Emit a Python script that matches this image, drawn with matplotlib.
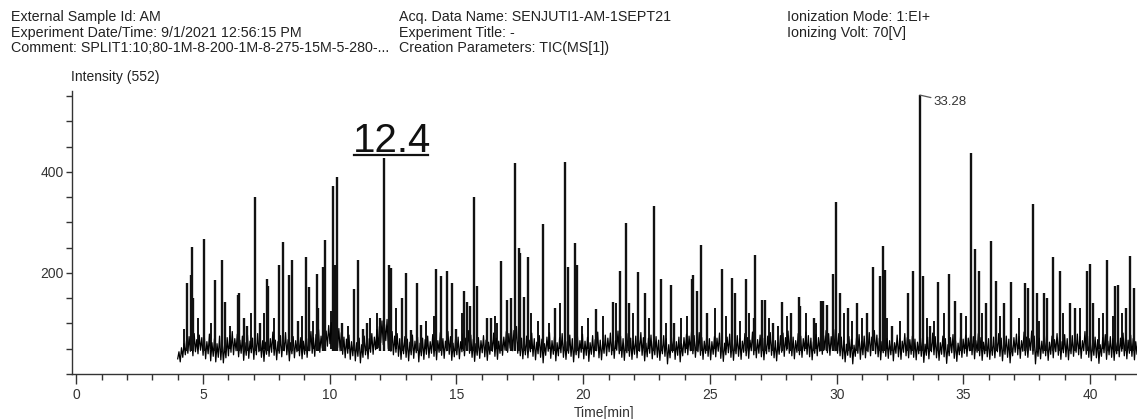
import numpy as np
import matplotlib
matplotlib.use("Agg")
import matplotlib.pyplot as plt
from matplotlib.lines import Line2D
from matplotlib.ticker import MultipleLocator

plt.rcParams['font.family'] = ['Liberation Sans', 'DejaVu Sans']

# ---------------- data ----------------
# baseline (noise) of the TIC, 20 readings per minute from 4.0 to 42.0 min
baseline = [
    30, 44, 24, 52, 33, 60, 38, 66, 41, 74, 45, 70, 36, 80, 44, 68, 40, 77, 47, 72,
    37, 73, 30, 64, 40, 79, 26, 62, 35, 70, 24, 60, 33, 75, 28, 66, 22, 58, 32, 72,
    36, 76, 43, 84, 38, 70, 46, 79, 34, 67, 41, 75, 27, 62, 37, 77, 31, 65, 42, 71,
    29, 69, 38, 80, 44, 73, 33, 66, 25, 63, 39, 78, 35, 70, 43, 83, 37, 67, 28, 64,
    41, 76, 34, 71, 46, 82, 38, 68, 26, 62, 40, 74, 32, 66, 44, 79, 36, 72, 30, 65,
    39, 75, 33, 70, 46, 84, 41, 72, 35, 78, 48, 88, 43, 75, 51, 92, 49, 85, 55, 96,
    60, 102, 56, 95, 64, 106, 52, 90, 46, 82, 39, 73, 32, 69, 41, 77, 29, 64, 36, 72,
    26, 62, 35, 71, 22, 58, 33, 75, 38, 66, 30, 70, 43, 80, 39, 73, 48, 88, 52, 94,
    62, 105, 58, 98, 66, 108, 50, 92, 45, 84, 38, 75, 43, 80, 35, 70, 29, 66, 40, 74,
    33, 69, 26, 63, 38, 77, 31, 65, 42, 73, 24, 61, 36, 71, 29, 68, 39, 75, 32, 64,
    41, 78, 35, 72, 28, 66, 43, 82, 37, 70, 31, 65, 46, 84, 39, 74, 27, 61, 34, 69,
    38, 73, 30, 64, 44, 80, 36, 71, 49, 86, 41, 77, 33, 69, 25, 60, 37, 72, 31, 66,
    42, 76, 34, 67, 27, 63, 39, 74, 45, 81, 35, 71, 29, 65, 41, 78, 37, 73, 47, 84,
    43, 80, 51, 90, 46, 86, 54, 94, 41, 77, 36, 71, 30, 66, 38, 75, 32, 67, 44, 81,
    35, 70, 28, 63, 40, 76, 33, 69, 22, 60, 37, 73, 45, 82, 31, 66, 39, 74, 26, 62,
    36, 72, 42, 80, 33, 67, 29, 64, 41, 77, 35, 70, 24, 61, 38, 75, 32, 66, 43, 79,
    30, 65, 37, 73, 25, 62, 39, 76, 34, 68, 46, 83, 32, 67, 28, 64, 41, 77, 36, 71,
    44, 81, 38, 74, 31, 66, 47, 85, 40, 75, 33, 70, 27, 63, 42, 80, 35, 71, 29, 65,
    39, 75, 32, 69, 45, 82, 37, 72, 26, 61, 34, 71, 41, 77, 30, 65, 38, 74, 33, 67,
    27, 63, 40, 76, 35, 70, 20, 58, 32, 67, 43, 80, 29, 64, 37, 73, 24, 60, 36, 72,
    42, 79, 38, 75, 46, 84, 40, 76, 33, 68, 44, 82, 37, 72, 29, 65, 41, 77, 35, 70,
    28, 64, 39, 74, 34, 71, 45, 81, 31, 66, 25, 61, 38, 73, 42, 79, 33, 68, 27, 63,
    40, 76, 35, 70, 29, 65, 43, 80, 36, 72, 31, 67, 46, 83, 38, 74, 32, 68, 41, 77,
    34, 71, 28, 64, 40, 75, 44, 82, 37, 73, 32, 66, 26, 62, 39, 76, 43, 81, 35, 72,
    47, 85, 41, 77, 36, 73, 30, 66, 43, 80, 38, 75, 33, 70, 46, 83, 39, 76, 34, 71,
    28, 64, 41, 78, 36, 72, 45, 82, 39, 76, 48, 86, 42, 80, 37, 74, 49, 88, 46, 84,
    41, 80, 36, 73, 30, 66, 24, 59, 37, 74, 33, 69, 20, 57, 35, 72, 41, 78, 29, 65,
    38, 75, 32, 68, 44, 82, 36, 73, 47, 86, 40, 77, 34, 71, 28, 64, 42, 80, 35, 70,
    31, 66, 38, 74, 26, 62, 41, 77, 34, 70, 29, 65, 43, 80, 36, 72, 32, 68, 39, 75,
    33, 69, 28, 63, 40, 76, 35, 71, 23, 59, 37, 73, 30, 67, 44, 81, 38, 74, 32, 68,
    27, 62, 39, 75, 34, 70, 21, 58, 36, 72, 42, 78, 31, 66, 25, 61, 38, 74, 33, 69,
    41, 77, 35, 71, 46, 84, 38, 74, 30, 66, 43, 80, 36, 72, 27, 63, 40, 76, 34, 70,
    29, 64, 37, 73, 32, 68, 44, 80, 35, 71, 26, 62, 39, 75, 33, 69, 22, 59, 36, 72,
    43, 79, 38, 74, 31, 66, 45, 83, 37, 73, 33, 70, 47, 85, 39, 75, 20, 58, 35, 71,
    30, 65, 41, 77, 36, 72, 27, 63, 39, 75, 32, 68, 44, 80, 37, 73, 29, 64, 42, 78,
    34, 70, 28, 64, 40, 76, 35, 71, 43, 79, 38, 74, 31, 66, 46, 84, 39, 75, 33, 69,
    26, 62, 37, 73, 32, 68, 21, 58, 35, 72, 42, 78, 29, 65, 38, 74, 33, 70, 27, 63,
    40, 76, 34, 71, 45, 81, 36, 72, 30, 67, 41, 77, 35, 70, 28, 64, 39, 75, 32, 69,
]
run_start, run_end = 4.0, 42.0

# main peaks: retention times [min] and apex intensities
peak_times = [
    4.38, 4.53, 4.57, 4.62, 5.05, 5.48, 5.75, 5.85, 6.38, 6.43, 6.60, 6.75, 7.06, 7.25,
    7.52, 7.58, 8.00, 8.17, 8.40, 8.50, 8.75, 9.06, 9.20, 9.48, 9.55, 9.72, 9.81, 10.14,
    10.22, 10.28, 10.50, 10.97, 11.10, 11.30, 11.45, 12.00, 12.15, 12.35, 12.42, 12.85,
    13.00, 13.20, 13.44, 13.60, 14.19, 14.40, 14.62, 14.82, 15.00, 15.31, 15.42, 15.55,
    15.71, 15.82, 16.20, 16.35, 16.77, 16.98, 17.15, 17.29, 17.45, 17.50, 17.65, 17.82,
    18.40, 18.90, 19.28, 19.41, 19.67, 19.75, 20.50, 21.16, 21.47, 21.70, 21.80, 22.17,
    22.45, 22.80, 23.08, 23.48, 23.60, 24.29, 24.35, 24.50, 24.64, 24.90, 25.46, 25.89,
    26.00, 26.41, 26.72, 26.76, 27.05, 27.18, 27.50, 27.84, 28.20, 28.50, 28.55, 29.10,
    29.37, 29.45, 29.60, 29.86, 29.98, 30.12, 30.45, 30.82, 31.20, 31.45, 31.70, 31.81,
    31.90, 32.20, 32.82, 33.03, 33.28, 33.39, 33.70, 34.00, 34.44, 34.65, 34.90, 35.30,
    35.46, 35.62, 35.90, 36.07, 36.29, 36.60, 36.88, 37.42, 37.55, 37.74, 37.90, 38.20,
    38.30, 38.54, 38.80, 39.20, 39.40, 39.87, 39.99, 40.10, 40.68, 41.00, 41.10, 41.40,
    41.58, 41.75,
]
peak_heights = [
    180, 195, 251, 150, 268, 186, 225, 143, 157, 160, 110, 95, 350, 100,
    188, 175, 215, 262, 195, 225, 105, 232, 172, 197, 130, 212, 265, 373,
    215, 390, 100, 168, 225, 90, 100, 110, 427, 215, 210, 151,
    199, 88, 181, 96, 208, 193, 203, 180, 90, 165, 142, 135,
    351, 175, 110, 110, 223, 146, 150, 417, 249, 240, 153, 231,
    296, 131, 420, 211, 260, 216, 128, 142, 204, 299, 140, 202,
    161, 332, 188, 176, 100, 188, 196, 164, 256, 120, 207, 190,
    161, 188, 110, 236, 146, 147, 100, 142, 120, 152, 135, 110,
    145, 145, 137, 197, 340, 160, 130, 140, 120, 212, 193, 254,
    205, 95, 161, 204, 552, 193, 95, 182, 197, 145, 120, 437,
    247, 204, 140, 263, 184, 140, 182, 180, 170, 337, 160, 160,
    150, 231, 203, 140, 130, 204, 218, 140, 226, 175, 176, 130,
    234, 170,
]
# small peaks standing just above the noise
minor_peak_times = [
    4.25, 4.80, 5.30, 6.05, 6.90, 7.40, 7.80, 8.90, 9.35, 10.05, 10.70, 11.60,
    11.85, 12.60, 13.80, 14.10, 15.20, 16.50, 16.60, 17.95, 18.20, 18.65, 19.10,
    19.95, 20.20, 20.80, 21.30, 21.95, 22.60, 23.25, 23.85, 24.10, 25.20, 25.65,
    26.20, 26.55, 27.35, 27.70, 28.05, 28.80, 29.20, 30.30, 30.60, 31.00, 32.00,
    32.50, 33.55, 33.85, 34.25, 35.10, 35.75, 36.45, 37.20, 38.00, 38.95, 39.60,
    40.35, 40.50, 40.90, 41.25,
]
minor_peak_heights = [
    90, 110, 100, 95, 120, 120, 110, 115, 105, 125, 95, 110,
    120, 130, 105, 115, 120, 115, 100, 120, 105, 100, 140,
    95, 110, 115, 140, 120, 110, 100, 110, 115, 130, 115,
    105, 120, 110, 95, 115, 120, 100, 120, 105, 110, 110,
    105, 110, 105, 120, 115, 120, 115, 110, 105, 120, 130,
    110, 120, 115, 120,
]
labelled_peak = 33.28
handwritten_note = "12.4"

header_col1 = ["External Sample Id: AM",
               "Experiment Date/Time: 9/1/2021 12:56:15 PM",
               "Comment: SPLIT1:10;80-1M-8-200-1M-8-275-15M-5-280-..."]
header_col2 = ["Acq. Data Name: SENJUTI1-AM-1SEPT21",
               "Experiment Title: -",
               "Creation Parameters: TIC(MS[1])"]
header_col3 = ["Ionization Mode: 1:EI+",
               "Ionizing Volt: 70[V]"]
y_title = "Intensity (552)"
x_title = "Time[min]"

# ---------------- figure ----------------
W, H = 1137, 419
fig = plt.figure(figsize=(W / 100, H / 100), dpi=100)
ax = fig.add_axes([72 / W, 1 - 374 / H, (W - 72) / W, (374 - 91) / H])

t = np.linspace(run_start, run_end, len(baseline))
ax.plot(t, baseline, color='black', lw=0.9)
ax.vlines(minor_peak_times, 50, minor_peak_heights, color='black', lw=1.3)
ax.vlines(peak_times, 45, peak_heights, color='#111111', lw=1.7)

ax.set_xlim(-0.17, 41.85)
ax.set_ylim(0, 560)

for s in ['top', 'right']:
    ax.spines[s].set_visible(False)
for s in ['left', 'bottom']:
    ax.spines[s].set_color('#333333')
    ax.spines[s].set_linewidth(1.0)

ax.xaxis.set_major_locator(MultipleLocator(5))
ax.xaxis.set_minor_locator(MultipleLocator(1))
ax.yaxis.set_major_locator(MultipleLocator(200))
ax.yaxis.set_minor_locator(MultipleLocator(50))
ax.tick_params(axis='x', which='major', length=7, width=1.0, color='#333333',
               labelsize=10, labelcolor='#333333', pad=3)
ax.tick_params(axis='x', which='minor', length=4, width=1.0, color='#333333')
ax.tick_params(axis='y', which='major', length=4, width=1.0, color='#333333',
               labelsize=10, labelcolor='#333333', pad=2)
ax.tick_params(axis='y', which='minor', length=4, width=1.0, color='#333333')
ax.set_yticks([200, 400])
ax.set_yticklabels(['200', '400'])
ax.set_xlabel(x_title, fontsize=10, color='#333333', labelpad=3)

# label of the tallest peak
ax.annotate(f"{labelled_peak:.2f}",
            xy=(labelled_peak, peak_heights[peak_times.index(labelled_peak)]),
            xytext=(10, -5), textcoords='offset points',
            ha='left', va='center', fontsize=9.5, color='#333333',
            arrowprops=dict(arrowstyle='-', color='#555555', lw=0.9,
                            shrinkA=0, shrinkB=0))


def fx(px):
    return px / W


def fy(py):
    return 1 - py / H


# handwritten note
fig.text(fx(392), fy(152), handwritten_note, ha='center', va='baseline',
         fontsize=29, color='#111111')
fig.add_artist(Line2D([fx(354), fx(428)], [fy(155), fy(155)],
                      color='#111111', lw=1.6))

# header
for i, s in enumerate(header_col1):
    fig.text(fx(11), fy(17 + 15.5 * i), s, fontsize=10.3, va='center', ha='left', color='#222222')
for i, s in enumerate(header_col2):
    fig.text(fx(399), fy(17 + 15.5 * i), s, fontsize=10.3, va='center', ha='left', color='#222222')
for i, s in enumerate(header_col3):
    fig.text(fx(787), fy(17 + 15.5 * i), s, fontsize=10.3, va='center', ha='left', color='#222222')
fig.text(fx(71), fy(77), y_title, fontsize=10, va='center', ha='left', color='#222222')

fig.savefig("out.png", dpi=100)
